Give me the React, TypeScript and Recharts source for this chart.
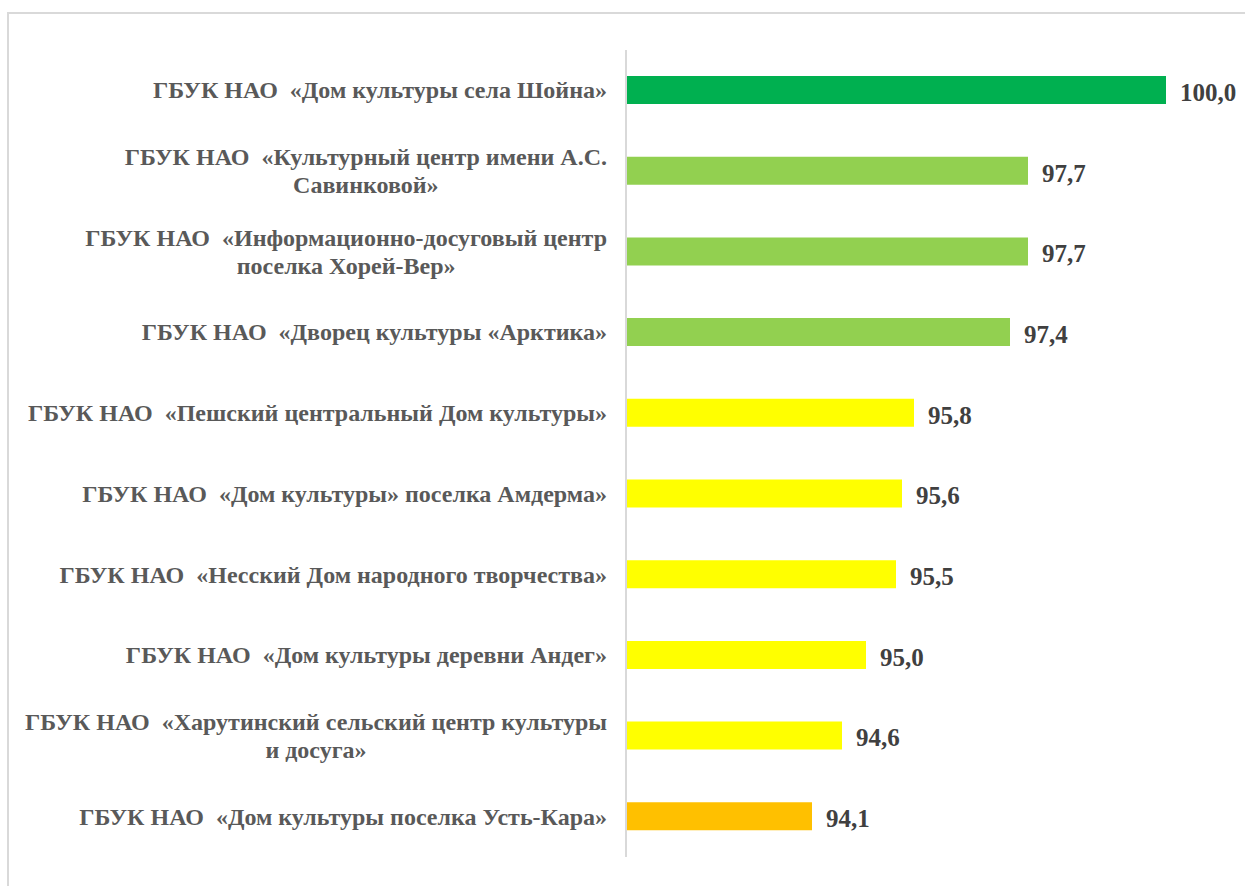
import React from "react";
import { BarChart, Bar, XAxis, YAxis, Cell, LabelList } from "recharts";

const categories: string[] = [
  "ГБУК НАО  «Дом культуры села Шойна»",
  "ГБУК НАО  «Культурный центр имени А.С.\nСавинковой»",
  "ГБУК НАО  «Информационно-досуговый центр\nпоселка Хорей-Вер»",
  "ГБУК НАО  «Дворец культуры «Арктика»",
  "ГБУК НАО  «Пешский центральный Дом культуры»",
  "ГБУК НАО  «Дом культуры» поселка Амдерма»",
  "ГБУК НАО  «Несский Дом народного творчества»",
  "ГБУК НАО  «Дом культуры деревни Андег»",
  "ГБУК НАО  «Харутинский сельский центр культуры\nи досуга»",
  "ГБУК НАО  «Дом культуры поселка Усть-Кара»",
];

const values: number[] = [100.0, 97.7, 97.7, 97.4, 95.8, 95.6, 95.5, 95.0, 94.6, 94.1];

const barColors: string[] = [
  "#00B050",
  "#92D050",
  "#92D050",
  "#92D050",
  "#FFFF00",
  "#FFFF00",
  "#FFFF00",
  "#FFFF00",
  "#FFFF00",
  "#FFC000",
];

const xDomain: [number, number] = [91, 100];

const data = categories.map((name, i) => ({ name, value: values[i] }));

const SERIF = "'Liberation Serif', 'Times New Roman', serif";
const LABEL_SIZE = 24;
const LABEL_RIGHT = 607;
const LINE_H = 28;

let ctx: CanvasRenderingContext2D | null = null;
function measure(s: string): number {
  if (!ctx) {
    const c = document.createElement("canvas");
    ctx = c.getContext("2d");
  }
  if (!ctx) return s.length * 11;
  ctx.font = `bold ${LABEL_SIZE}px 'Liberation Serif', serif`;
  return ctx.measureText(s).width;
}

const CategoryTick = (props: any) => {
  const { y, payload } = props;
  const lines: string[] = String(payload.value).split("\n");
  const maxW = Math.max(...lines.map(measure));
  const cx = LABEL_RIGHT - maxW / 2;
  const startDy = -((lines.length - 1) * LINE_H) / 2;
  return (
    <text
      x={cx}
      y={y}
      textAnchor="middle"
      dominantBaseline="central"
      fill="#595959"
      fontFamily={SERIF}
      fontWeight="bold"
      fontSize={LABEL_SIZE}
      style={{ whiteSpace: "pre" }}
    >
      {lines.map((ln, i) => (
        <tspan key={i} x={cx} dy={i === 0 ? startDy : LINE_H}>
          {ln}
        </tspan>
      ))}
    </text>
  );
};

const fmt = (v: any) => Number(v).toFixed(1).replace(".", ",");

export default function App() {
  return (
    <div
      style={{
        position: "fixed",
        left: 0,
        top: 0,
        width: 1245,
        height: 886,
        overflow: "hidden",
        background: "#ffffff",
      }}
    >
      <div
        style={{
          position: "absolute",
          left: 7,
          top: 12,
          width: 1300,
          height: 1000,
          borderTop: "2px solid #d9d9d9",
          borderLeft: "2px solid #d9d9d9",
        }}
      />
      <div style={{ position: "absolute", left: 0, top: 0 }}>
        <BarChart
          width={1245}
          height={886}
          data={data}
          layout="vertical"
          margin={{ top: 50, right: 79, bottom: 29, left: 0 }}
          barCategoryGap={0}
        >
          <XAxis type="number" domain={xDomain} hide allowDataOverflow />
          <YAxis
            type="category"
            dataKey="name"
            width={626}
            axisLine={{ stroke: "#d9d9d9", strokeWidth: 2 }}
            tickLine={false}
            tick={<CategoryTick />}
            interval={0}
          />
          <Bar dataKey="value" barSize={28} isAnimationActive={false}>
            {data.map((d, i) => (
              <Cell key={i} fill={barColors[i]} />
            ))}
            <LabelList
              dataKey="value"
              position="right"
              offset={14}
              formatter={fmt}
              fontFamily={SERIF}
              fontWeight="bold"
              fontSize={25}
              fill="#404040"
              dy={2}
            />
          </Bar>
        </BarChart>
      </div>
    </div>
  );
}
